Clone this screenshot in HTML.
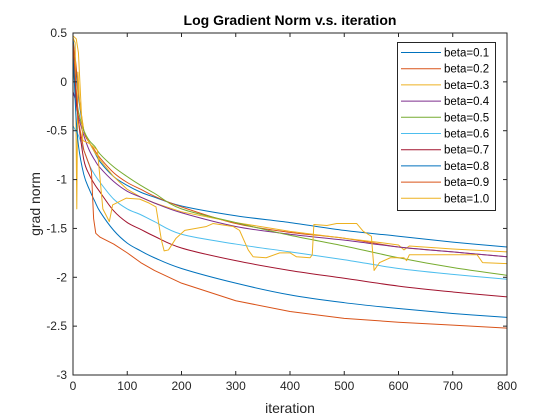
<!DOCTYPE html>
<html><head><meta charset="utf-8"><style>
body{margin:0;background:#fff;}
svg{display:block;font-family:"Liberation Sans",Arial,sans-serif;}
</style></head><body>
<svg id="chart" width="560" height="420" viewBox="0 0 560 420">
<rect x="0" y="0" width="560" height="420" fill="#fff"/>
<text x="290" y="25" text-anchor="middle" font-size="14" font-weight="bold" fill="#000">Log Gradient Norm v.s. iteration</text>
<text x="290" y="413" text-anchor="middle" font-size="14" fill="#262626">iteration</text>
<text x="40" y="204" text-anchor="middle" font-size="14" fill="#262626" transform="rotate(-90 40 204)">grad norm</text>
<g id="plot"></g>
</svg>
<script>
const xTicks=[0,100,200,300,400,500,600,700,800];
const yTicks=[0.5,0,-0.5,-1,-1.5,-2,-2.5,-3];
const yTickLabels=["0.5","0","-0.5","-1","-1.5","-2","-2.5","-3"];
const seriesNames=["beta=0.1","beta=0.2","beta=0.3","beta=0.4","beta=0.5","beta=0.6","beta=0.7","beta=0.8","beta=0.9","beta=1.0"];
const seriesColors=["#0072BD","#D95319","#EDB120","#7E2F8E","#77AC30","#4DBEEE","#A2142F","#0072BD","#D95319","#EDB120"];
const itersStd=[0,5,10,20,30,40,50,75,100,125,150,200,300,400,500,600,700,800];
const beta01=[0.45,0.15,-0.15,-0.5,-0.62,-0.72,-0.82,-0.97,-1.06,-1.13,-1.18,-1.27,-1.37,-1.44,-1.52,-1.58,-1.64,-1.69];
const beta02=[0.4,0.2,-0.1,-0.5,-0.62,-0.7,-0.78,-0.93,-1.03,-1.1,-1.17,-1.28,-1.45,-1.54,-1.6,-1.69,-1.74,-1.79];
const iters03=[0,4,7,9,12,20,30,40,50,75,100,125,150,200,300,400,500,560,600,610,620,700,800];
const beta03=[0.45,0.4,-1.3,0.1,-0.2,-0.5,-0.62,-0.72,-0.8,-0.97,-1.1,-1.18,-1.24,-1.33,-1.44,-1.53,-1.6,-1.64,-1.67,-1.72,-1.68,-1.71,-1.74];
const beta04=[-0.1,-0.2,-0.35,-0.55,-0.7,-0.8,-0.88,-1.02,-1.12,-1.18,-1.24,-1.34,-1.48,-1.56,-1.62,-1.69,-1.74,-1.79];
const beta05=[0.15,-0.1,-0.3,-0.5,-0.6,-0.66,-0.74,-0.87,-0.97,-1.06,-1.14,-1.3,-1.44,-1.57,-1.68,-1.8,-1.9,-1.98];
const beta06=[-0.45,-0.5,-0.55,-0.7,-0.85,-0.95,-1.03,-1.2,-1.3,-1.36,-1.43,-1.56,-1.66,-1.74,-1.82,-1.91,-1.97,-2.02];
const beta07=[0.3,-0.1,-0.4,-0.8,-0.95,-1.05,-1.13,-1.32,-1.44,-1.51,-1.58,-1.7,-1.83,-1.93,-2.01,-2.09,-2.15,-2.2];
const beta08=[0.35,-0.3,-0.65,-0.95,-1.1,-1.22,-1.33,-1.52,-1.65,-1.73,-1.8,-1.91,-2.06,-2.18,-2.26,-2.32,-2.37,-2.41];
const iters09=[0,5,10,20,30,34,38,42,50,75,100,125,150,200,300,400,500,600,700,800];
const beta09=[0.4,0.0,-0.4,-0.7,-0.85,-0.92,-1.4,-1.55,-1.59,-1.66,-1.75,-1.85,-1.93,-2.06,-2.24,-2.35,-2.42,-2.46,-2.49,-2.52];
const iters10=[0,6,10,18,30,45,55,67,73,98,123,140,153,158,163,168,176,190,206,246,258,295,307,323,332,356,381,400,412,437,441,444,468,486,523,535,550,555,565,585,610,615,620,745,755,800];
const beta10=[0.47,0.44,0.3,-0.6,-0.63,-0.7,-1.3,-1.43,-1.26,-1.19,-1.2,-1.24,-1.28,-1.45,-1.62,-1.73,-1.72,-1.6,-1.52,-1.48,-1.45,-1.48,-1.52,-1.72,-1.79,-1.8,-1.75,-1.75,-1.79,-1.8,-1.77,-1.46,-1.47,-1.45,-1.45,-1.53,-1.58,-1.93,-1.85,-1.8,-1.8,-1.83,-1.77,-1.77,-1.85,-1.86];

const X0=73,X1=507,Y0=33,Y1=375;
const xMin=0,xMax=800,yMin=-3,yMax=0.5;
function sx(v){return X0+(v-xMin)/(xMax-xMin)*(X1-X0);}
function sy(v){return Y1-(v-yMin)/(yMax-yMin)*(Y1-Y0);}
const NS="http://www.w3.org/2000/svg";
const plot=document.getElementById('plot');
function mk(tag,attrs,parent){const e=document.createElementNS(NS,tag);for(const k in attrs)e.setAttribute(k,attrs[k]);(parent||plot).appendChild(e);return e;}

const seriesIters=[itersStd,itersStd,iters03,itersStd,itersStd,itersStd,itersStd,itersStd,iters09,iters10];
const seriesVals=[beta01,beta02,beta03,beta04,beta05,beta06,beta07,beta08,beta09,beta10];
const smoothFlags=[true,true,false,true,true,true,true,true,false,false];

const box=mk('rect',{x:X0,y:Y0,width:X1-X0,height:Y1-Y0,fill:'#fff',stroke:'none'});



function pathFor(pts,smooth){
  let d='M'+pts[0][0].toFixed(2)+' '+pts[0][1].toFixed(2);
  for(let i=0;i<pts.length-1;i++){
    if(!smooth){d+='L'+pts[i+1][0].toFixed(2)+' '+pts[i+1][1].toFixed(2);continue;}
    const p0=pts[Math.max(0,i-1)],p1=pts[i],p2=pts[i+1],p3=pts[Math.min(pts.length-1,i+2)];
    const c1x=p1[0]+(p2[0]-p0[0])/6,c1y=p1[1]+(p2[1]-p0[1])/6;
    const c2x=p2[0]-(p3[0]-p1[0])/6,c2y=p2[1]-(p3[1]-p1[1])/6;
    d+='C'+c1x.toFixed(2)+' '+c1y.toFixed(2)+' '+c2x.toFixed(2)+' '+c2y.toFixed(2)+' '+p2[0].toFixed(2)+' '+p2[1].toFixed(2);
  }
  return d;
}

for(let s=0;s<seriesVals.length;s++){
  const it=seriesIters[s],vals=seriesVals[s];
  const pts=vals.map((v,i)=>[sx(it[i]),sy(v)]);
  const p=mk('path',{d:pathFor(pts,smoothFlags[s]),fill:'none',stroke:seriesColors[s],'stroke-width':1,'stroke-linejoin':'round'});
  
  
}

const frame=mk('rect',{x:X0,y:Y0,width:X1-X0,height:Y1-Y0,fill:'none',stroke:'#262626','stroke-width':1});



xTicks.forEach(t=>{
  const x=sx(t);
  const l1=mk('line',{x1:x,y1:Y1,x2:x,y2:Y1-4,stroke:'#262626'});
  
  
  const l2=mk('line',{x1:x,y1:Y0,x2:x,y2:Y0+4,stroke:'#262626'});
  
  
  const tx=mk('text',{x:x,y:Y1+15,'text-anchor':'middle','font-size':12,fill:'#262626'});
  tx.textContent=String(t);
  
  
});
yTicks.forEach((t,i)=>{
  const y=sy(t);
  const l1=mk('line',{x1:X0,y1:y,x2:X0+4,y2:y,stroke:'#262626'});
  
  
  const l2=mk('line',{x1:X1,y1:y,x2:X1-4,y2:y,stroke:'#262626'});
  
  
  const tx=mk('text',{x:X0-6,y:y+4,'text-anchor':'end','font-size':12,fill:'#262626'});
  tx.textContent=yTickLabels[i];
  
  
});

const lg=mk('g',{});


const lr=mk('rect',{x:397.5,y:42.5,width:98,height:168,fill:'#fff',stroke:'#262626','stroke-width':1},lg);


seriesNames.forEach((n,i)=>{
  const y=52.5+i*16.2;
  const g=mk('g',{},lg);
  
  
  mk('line',{x1:401,y1:y,x2:441,y2:y,stroke:seriesColors[i],'stroke-width':1},g);
  const t=mk('text',{x:444,y:y+4,'font-size':11.5,fill:'#000'},g);
  t.textContent=n;
});
</script>
</body></html>
